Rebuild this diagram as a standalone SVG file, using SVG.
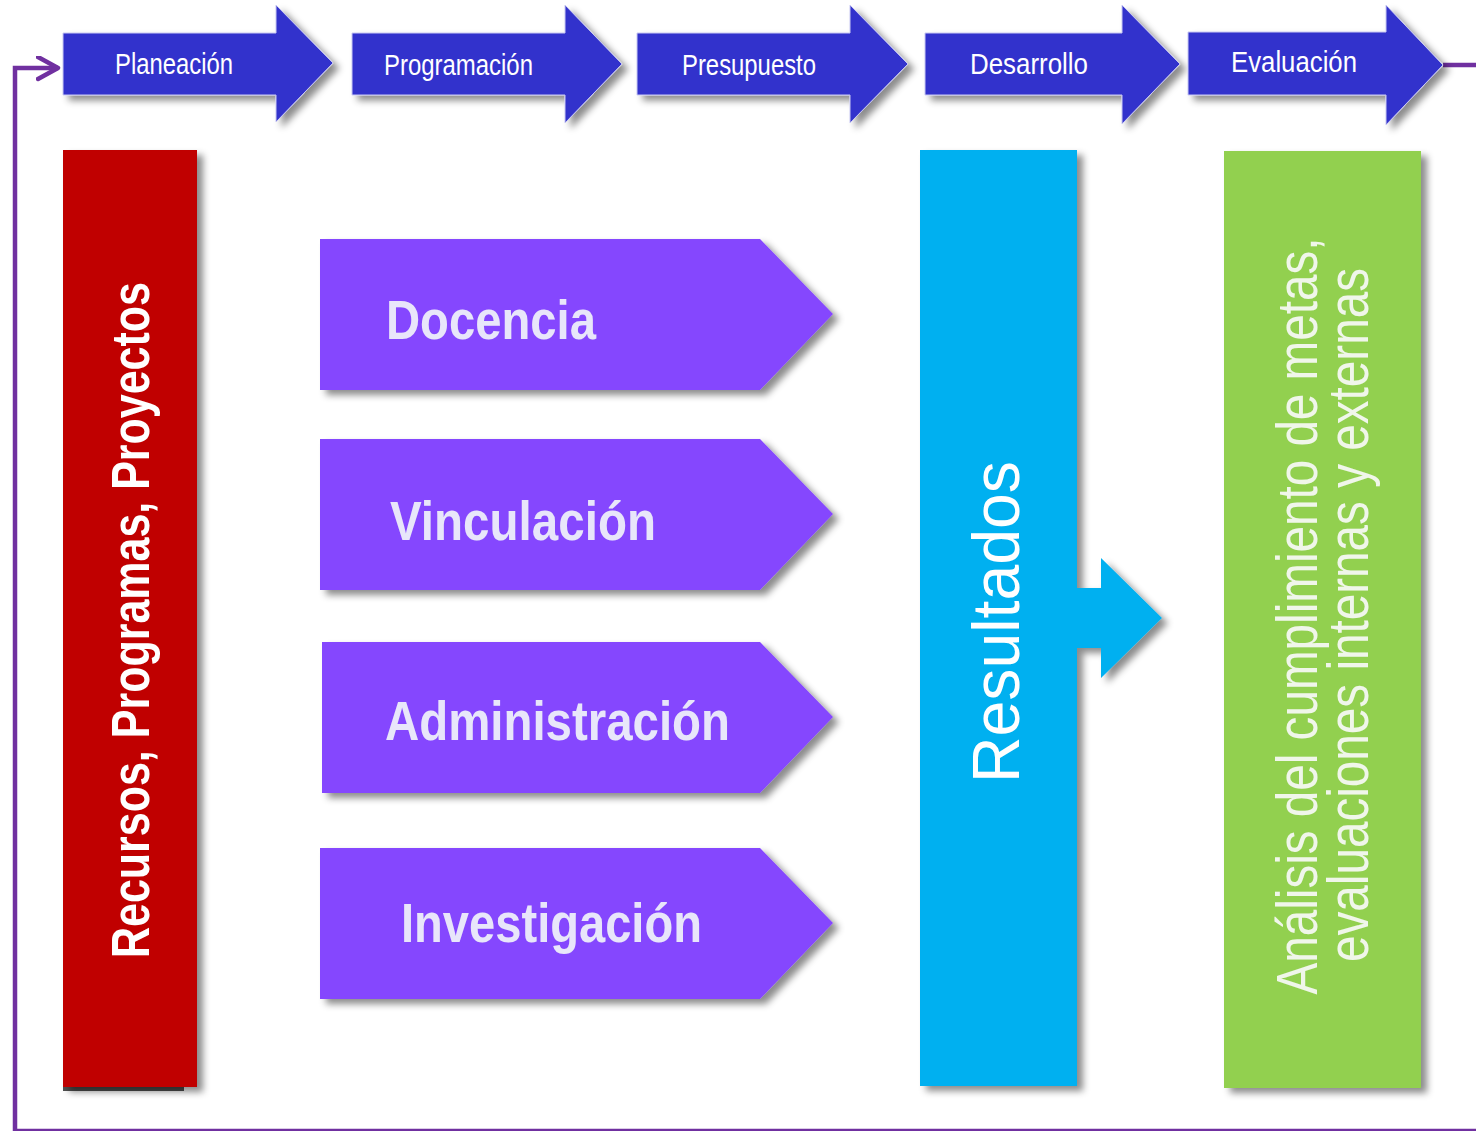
<svg xmlns="http://www.w3.org/2000/svg" width="1476" height="1131" viewBox="0 0 1476 1131">
  <defs>
    <filter id="sh" x="-10%" y="-10%" width="130%" height="130%">
      <feDropShadow dx="6" dy="5" stdDeviation="3.5" flood-color="#000" flood-opacity="0.45"/>
    </filter>
    <marker id="chev" markerWidth="30" markerHeight="30" refX="22" refY="12" orient="auto" markerUnits="userSpaceOnUse">
      <polyline points="2,1 22,12 2,23" fill="none" stroke="#7030A0" stroke-width="4.5" stroke-linecap="round" stroke-linejoin="round"/>
    </marker>
    <style>
      .step { fill: #3333CC; stroke: #C9C9F2; stroke-width: 1; filter: url(#sh); }
      .steplbl { font-family: "Liberation Sans", Arial, sans-serif; font-size: 30px; fill: #FFFFFF; }
      .area { fill: #8547FE; filter: url(#sh); }
      .arealbl { font-family: "Liberation Sans", Arial, sans-serif; font-size: 56px; font-weight: bold; fill: #E8E6FA; }
      .col { filter: url(#sh); }
      .conn { fill: none; stroke: #7030A0; stroke-width: 4.5; }
    </style>
  </defs>
  <rect width="1476" height="1131" fill="#FFFFFF"/>

  <g id="connectors">
    <path class="conn" d="M1443,65 H1490 V1131 H15 V68 H58" marker-end="url(#chev)"/>
  </g>

  <g id="planeacion">
    <polygon class="step" points="63,33 276,33 276,5 333,63 276,122 276,95 63,95"/>
    <text class="steplbl" x="115" y="74" textLength="118" lengthAdjust="spacingAndGlyphs">Planeación</text>
  </g>
  <g id="programacion">
    <polygon class="step" points="352,33 565,33 565,5 622,64 565,123 565,95 352,95"/>
    <text class="steplbl" x="384" y="75" textLength="149" lengthAdjust="spacingAndGlyphs">Programación</text>
  </g>
  <g id="presupuesto">
    <polygon class="step" points="637,33 850,33 850,5 908,64 850,123 850,95 637,95"/>
    <text class="steplbl" x="682" y="75" textLength="134" lengthAdjust="spacingAndGlyphs">Presupuesto</text>
  </g>
  <g id="desarrollo">
    <polygon class="step" points="925,33 1122,33 1122,5 1180,64 1122,124 1122,95 925,95"/>
    <text class="steplbl" x="970" y="74" textLength="118" lengthAdjust="spacingAndGlyphs">Desarrollo</text>
  </g>
  <g id="evaluacion">
    <polygon class="step" points="1188,32 1386,32 1386,5 1443,65 1386,125 1386,95 1188,95"/>
    <text class="steplbl" x="1231" y="72" textLength="126" lengthAdjust="spacingAndGlyphs">Evaluación</text>
  </g>

  <g id="recursos">
    <rect x="63" y="1087" width="121" height="4" fill="#505050"/>
    <rect class="col" x="63" y="150" width="134" height="937" fill="#C00000"/>
    <text transform="translate(149,620) rotate(-90)" x="0" y="0" text-anchor="middle" textLength="676" lengthAdjust="spacingAndGlyphs" font-family="'Liberation Sans', Arial, sans-serif" font-size="54" font-weight="bold" fill="#FFFFFF">Recursos, Programas, Proyectos</text>
  </g>

  <g id="docencia">
    <polygon class="area" points="320,239 760,239 833,314 760,390 320,390"/>
    <text class="arealbl" x="386" y="339" textLength="210" lengthAdjust="spacingAndGlyphs">Docencia</text>
  </g>
  <g id="vinculacion">
    <polygon class="area" points="320,439 760,439 833,514 760,590 320,590"/>
    <text class="arealbl" x="390" y="540" textLength="266" lengthAdjust="spacingAndGlyphs">Vinculación</text>
  </g>
  <g id="administracion">
    <polygon class="area" points="322,642 760,642 833,717 760,793 322,793"/>
    <text class="arealbl" x="385" y="740" textLength="345" lengthAdjust="spacingAndGlyphs">Administración</text>
  </g>
  <g id="investigacion">
    <polygon class="area" points="320,848 760,848 833,923 760,999 320,999"/>
    <text class="arealbl" x="401" y="942" textLength="301" lengthAdjust="spacingAndGlyphs">Investigación</text>
  </g>

  <g id="resultados">
    <polygon class="col" fill="#00B0F0" points="920,150 1077,150 1077,588 1101,588 1101,558 1162,618 1101,678 1101,648 1077,648 1077,1086 920,1086"/>
    <text transform="translate(1019,622) rotate(-90)" x="0" y="0" text-anchor="middle" textLength="322" lengthAdjust="spacingAndGlyphs" font-family="'Liberation Sans', Arial, sans-serif" font-size="66" fill="#FFFFFF">Resultados</text>
  </g>

  <g id="analisis">
    <rect class="col" x="1224" y="151" width="197" height="937" fill="#92D050"/>
    <text transform="translate(1317,616) rotate(-90)" x="0" y="0" text-anchor="middle" textLength="757" lengthAdjust="spacingAndGlyphs" font-family="'Liberation Sans', Arial, sans-serif" font-size="58" fill="#F0F6EA">Análisis del cumplimiento de metas,</text>
    <text transform="translate(1368,615) rotate(-90)" x="0" y="0" text-anchor="middle" textLength="694" lengthAdjust="spacingAndGlyphs" font-family="'Liberation Sans', Arial, sans-serif" font-size="58" fill="#F0F6EA">evaluaciones internas y externas</text>
  </g>
</svg>
